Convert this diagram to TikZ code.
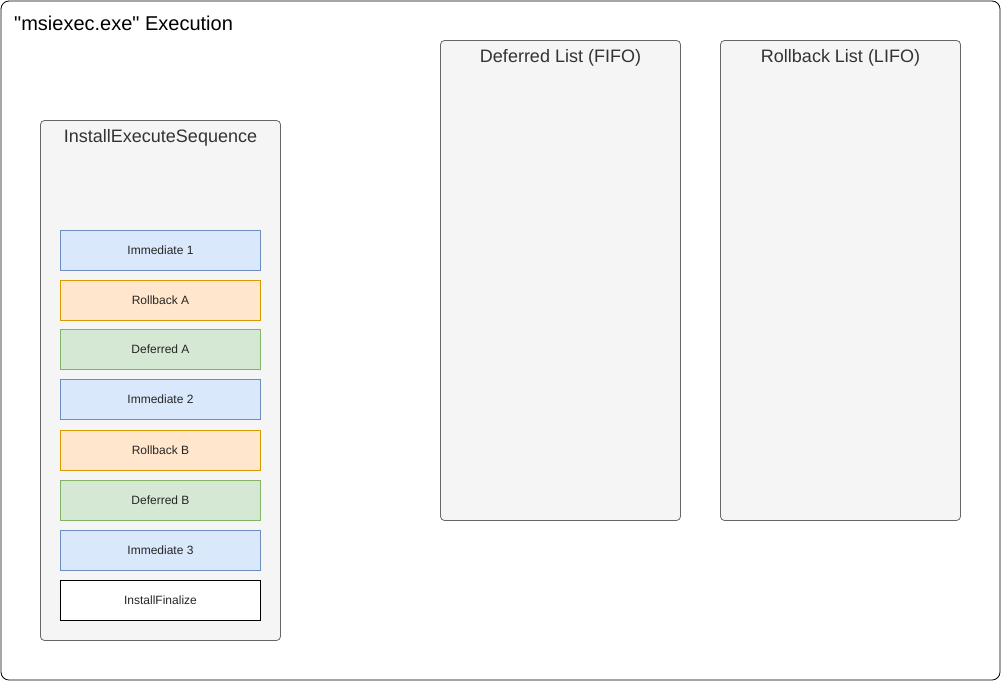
\documentclass[tikz,border=0pt]{standalone}
\usepackage{fontspec}
\setmainfont{Liberation Sans}[Ligatures=TeXOff]
\begin{document}
\begin{tikzpicture}[x=1pt,y=-1pt,
  lane/.style={draw=black!60,fill=black!4,rounded corners=4pt,line width=0.8pt},
  laneTitle/.style={text=black!80,font=\fontsize{18}{21}\selectfont,anchor=center},
  item/.style={draw,minimum width=200pt,minimum height=40pt,anchor=north west,outer sep=0pt,font=\fontsize{12}{14}\selectfont,text=black!85,line width=0.8pt,inner sep=0pt},
  imm/.style={item,fill={rgb,255:red,218;green,232;blue,252},draw={rgb,255:red,108;green,142;blue,191}},
  rb/.style={item,fill={rgb,255:red,255;green,230;blue,204},draw={rgb,255:red,215;green,155;blue,0}},
  dfr/.style={item,fill={rgb,255:red,213;green,232;blue,212},draw={rgb,255:red,130;green,179;blue,102}},
  fin/.style={item,fill=white,draw=black}]
\useasboundingbox (0,0) rectangle (1001,681);
\draw[rounded corners=8pt,line width=0.8pt,fill=white] (1,1) rectangle (1000,680);
\node[anchor=west,font=\fontsize{20}{23}\selectfont,inner sep=0pt] (title) at (14,23) {"msiexec.exe" Execution};

\draw[lane] (40.5,120.5) rectangle (280.5,640.5);
\node[laneTitle] (seq) at (160.5,138) {InstallExecuteSequence};
\draw[lane] (440.5,40.5) rectangle (680.5,520.5);
\node[laneTitle] (dlist) at (560.5,58) {Deferred List (FIFO)};
\draw[lane] (720.5,40.5) rectangle (960.5,520.5);
\node[laneTitle] (rlist) at (840.5,58) {Rollback List (LIFO)};

\node[imm] (i1) at (60.5,230.5) {Immediate 1};
\node[rb]  (ra) at (60.5,280.5) {Rollback A};
\node[dfr] (da) at (60.5,329.5) {Deferred A};
\node[imm] (i2) at (60.5,379.5) {Immediate 2};
\node[rb]  (rbb) at (60.5,430.5) {Rollback B};
\node[dfr] (db) at (60.5,480.5) {Deferred B};
\node[imm] (i3) at (60.5,530.5) {Immediate 3};
\node[fin] (f)  at (60.5,580.5) {InstallFinalize};
\end{tikzpicture}
\end{document}
